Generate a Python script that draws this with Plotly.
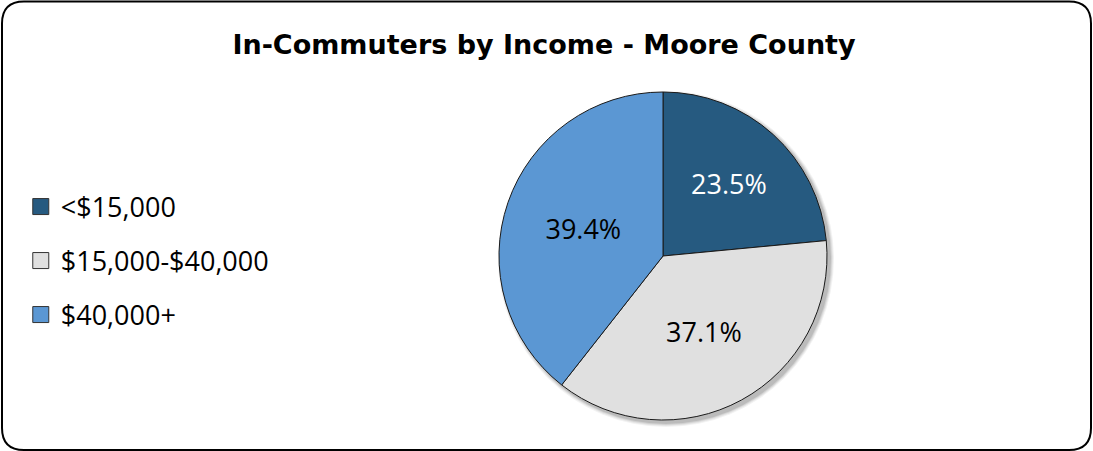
import plotly.graph_objects as go

# Income bands of workers commuting into Moore County (share of in-commuters, %)
categories = ["<$15,000", "$15,000-$40,000", "$40,000+"]
shares = [23.5, 37.1, 39.4]
colors = ["#265A80", "#E0E0E0", "#5B97D3"]
text_colors = ["white", "black", "black"]

W, H = 1093, 451
FONT = "Open Sans"

fig = go.Figure()

# Pie centred at (663, 256) px with radius ~164 px
cx, cy, r = 663, 256, 164
fig.add_trace(go.Pie(
    labels=categories,
    values=shares,
    sort=False,
    direction="clockwise",
    rotation=0,
    marker=dict(colors=colors, line=dict(color="#1a1a1a", width=1)),
    texttemplate="%{value:.1f}%",
    textposition="inside",
    insidetextorientation="horizontal",
    textfont=dict(family=FONT, size=27, color=text_colors),
    domain=dict(x=[(cx - r) / W, (cx + r) / W], y=[1 - (cy + r) / H, 1 - (cy - r) / H]),
    showlegend=False,
    hoverinfo="label+percent",
))

# Legend entries: one square marker per income band, each in its own legend box
legend_rows = [207, 261, 315]
for i, (name, col) in enumerate(zip(categories, colors)):
    lname = "legend" if i == 0 else f"legend{i + 1}"
    fig.add_trace(go.Scatter(
        x=[None], y=[None], mode="markers", name=name,
        marker=dict(symbol="square", size=16, color=col, line=dict(color="#333333", width=1)),
        legend=lname, showlegend=True,
    ))
    fig.update_layout(**{lname: dict(
        x=0.019, xanchor="left",
        y=1 - legend_rows[i] / H, yanchor="middle",
        bgcolor="rgba(0,0,0,0)", borderwidth=0,
        font=dict(family=FONT, size=27, color="black"),
        itemwidth=30,
    )})

shapes = []

# Soft drop shadow behind the pie
for k, op in enumerate([0.05, 0.06, 0.08, 0.10]):
    rr = r + 4 - k
    sx, sy = cx + 3, cy + 3
    shapes.append(dict(
        type="circle", xref="paper", yref="paper", layer="below",
        x0=(sx - rr) / W, x1=(sx + rr) / W, y0=1 - (sy + rr) / H, y1=1 - (sy - rr) / H,
        fillcolor=f"rgba(0,0,0,{op})", line=dict(width=0),
    ))

# Rounded outer frame
L, R, T, B, rad = 2, 1091, 1.5, 450, 22
def px(x):
    return x / W
def py(y):
    return 1 - y / H
path = (
    f"M {px(L + rad)},{py(T)} L {px(R - rad)},{py(T)} "
    f"Q {px(R)},{py(T)} {px(R)},{py(T + rad)} "
    f"L {px(R)},{py(B - rad)} Q {px(R)},{py(B)} {px(R - rad)},{py(B)} "
    f"L {px(L + rad)},{py(B)} Q {px(L)},{py(B)} {px(L)},{py(B - rad)} "
    f"L {px(L)},{py(T + rad)} Q {px(L)},{py(T)} {px(L + rad)},{py(T)} Z"
)
shapes.append(dict(type="path", xref="paper", yref="paper", path=path,
                   line=dict(color="black", width=2), layer="above"))

fig.update_layout(
    width=W, height=H,
    margin=dict(l=0, r=0, t=0, b=0),
    paper_bgcolor="white", plot_bgcolor="white",
    title=dict(
        text="<b>In-Commuters by Income - Moore County</b>",
        x=544 / W, xanchor="center", y=1 - 45 / H, yanchor="middle",
        font=dict(family="DejaVu Sans", size=27, color="black"),
    ),
    xaxis=dict(visible=False), yaxis=dict(visible=False),
    shapes=shapes,
)

fig.write_html("out.html")
